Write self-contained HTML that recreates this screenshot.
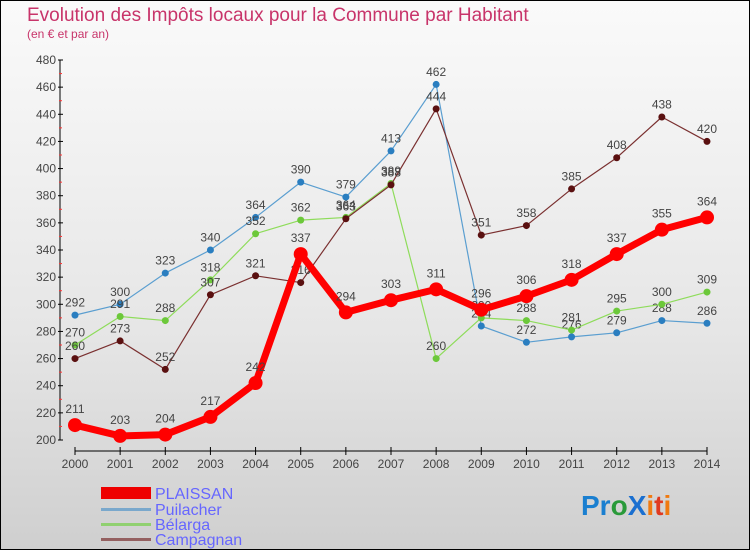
<!DOCTYPE html>
<html><head><meta charset="utf-8"><style>
body{margin:0;}
#c{width:750px;height:550px;position:relative;box-sizing:border-box;border:1px solid #000;background:linear-gradient(#fafafa,#e6e6e6 60%,#cfcfcf);font-family:"Liberation Sans",sans-serif;overflow:hidden}
</style></head><body>
<div id="c">
<svg width="748" height="548" xmlns="http://www.w3.org/2000/svg" id="s">
<text x="26" y="20" font-size="19" fill="#c8346a">Evolution des Impôts locaux pour la Commune par Habitant</text>
<text x="26" y="37" font-size="12" fill="#c8346a">(en € et par an)</text>
<g id="axes"></g><g id="series"></g>
<g>
<rect x="100" y="486" width="50" height="12" fill="#e00"/>
<text x="154" y="498" font-size="16" fill="#66f">PLAISSAN</text>
<rect x="100" y="507" width="50" height="3" fill="#7aa8cc"/>
<text x="154" y="514" font-size="16" fill="#66f">Puilacher</text>
<rect x="100" y="522" width="50" height="3" fill="#90d070"/>
<text x="154" y="529" font-size="16" fill="#66f">Bélarga</text>
<rect x="100" y="537" width="50" height="3" fill="#946060"/>
<text x="154" y="544" font-size="16" fill="#66f">Campagnan</text>
</g>
<g font-size="28" font-weight="bold" font-family="Liberation Sans,sans-serif">
<text x="580" y="514"><tspan fill="#1a7fd0">Pr</tspan><tspan fill="#2a9a3a">o</tspan><tspan fill="#1a6fd0">X</tspan><tspan fill="#f07a10">i</tspan><tspan fill="#e03a20">t</tspan><tspan fill="#f07a10">i</tspan></text>
</g>
</svg>
</div>
<script>
const years=["2000","2001","2002","2003","2004","2005","2006","2007","2008","2009","2010","2011","2012","2013","2014"];
const yTicks=[200,220,240,260,280,300,320,340,360,380,400,420,440,460,480];
const plaissan=[211,203,204,217,242,337,294,303,311,296,306,318,337,355,364];
const puilacher=[292,300,323,340,364,390,379,413,462,284,272,276,279,288,286];
const belarga=[270,291,288,318,352,362,364,389,260,290,288,281,295,300,309];
const campagnan=[260,273,252,307,321,316,363,388,444,351,358,385,408,438,420];
const NS="http://www.w3.org/2000/svg";
const X=i=>74+i*(632/14);
const Y=v=>439-(v-200)*(380/280);
function mk(t,a,p){const e=document.createElementNS(NS,t);for(const k in a)e.setAttribute(k,a[k]);p.appendChild(e);return e;}
const ax=document.getElementById('axes');
let l=mk('line',{x1:59,y1:Y(480),x2:59,y2:Y(200),stroke:'#000'},ax);


yTicks.forEach((v,i)=>{
 const t=mk('line',{x1:57,x2:62,y1:Y(v),y2:Y(v),stroke:'#000'},ax);
 
 
 const tx=mk('text',{x:55,y:Y(v)+4,'font-size':12,fill:'#444','text-anchor':'end'},ax);tx.textContent=v;
 
 
 if(i<yTicks.length-1){const m=mk('line',{x1:58,x2:61,y1:Y(v+10),y2:Y(v+10),stroke:'#f33'},ax);
 
 }
});
l=mk('line',{x1:X(0),x2:X(14),y1:450,y2:450,stroke:'#000'},ax);


years.forEach((y,i)=>{
 const t=mk('line',{x1:X(i),x2:X(i),y1:446,y2:454,stroke:'#000'},ax);
 
 
 const tx=mk('text',{x:X(i),y:467,'font-size':12,fill:'#444','text-anchor':'middle'},ax);tx.textContent=y;
 
 
});
const sg=document.getElementById('series');
function draw(name,vals,col,dot,w,r){
 const g=mk('g',{},sg);
 
 
 const p=mk('polyline',{points:vals.map((v,i)=>X(i)+','+Y(v)).join(' '),fill:'none',stroke:col,'stroke-width':w,'stroke-linejoin':'round'},g);
 
 
 vals.forEach((v,i)=>{
  const c=mk('circle',{cx:X(i),cy:Y(v),r:r,fill:dot},g);
  
  
  const t=mk('text',{x:X(i),y:Y(v)-(r+5),'font-size':12,fill:'#444','text-anchor':'middle'},g);t.textContent=v;
  
  
 });
}
draw('puilacher',puilacher,'#5a9ed0','#2a7ec0',1.2,3.5);
draw('belarga',belarga,'#8edc5a','#6cc83a',1.2,3.5);
draw('campagnan',campagnan,'#7a3030','#5a1010',1.2,3.5);
draw('plaissan',plaissan,'#f00','#f00',7,7);
</script>
</body></html>
